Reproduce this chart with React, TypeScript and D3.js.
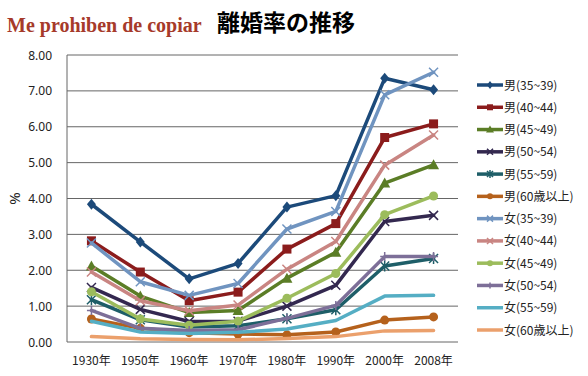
import React from "react";
import * as d3 from "d3";

const years = ["1930年", "1950年", "1960年", "1970年", "1980年", "1990年", "2000年", "2008年"];
const yTicks = [0, 1, 2, 3, 4, 5, 6, 7, 8];

const seriesNames = [
  "男(35~39)", "男(40~44)", "男(45~49)", "男(50~54)", "男(55~59)", "男(60歳以上)",
  "女(35~39)", "女(40~44)", "女(45~49)", "女(50~54)", "女(55~59)", "女(60歳以上)",
];

const m35 = [3.84, 2.79, 1.76, 2.19, 3.76, 4.08, 7.35, 7.03];
const m40 = [2.82, 1.95, 1.15, 1.39, 2.59, 3.3, 5.7, 6.08];
const m45 = [2.12, 1.28, 0.82, 0.88, 1.78, 2.5, 4.43, 4.94];
const m50 = [1.52, 0.91, 0.57, 0.58, 1.0, 1.58, 3.36, 3.53];
const m55 = [1.18, 0.62, 0.42, 0.45, 0.65, 0.9, 2.12, 2.33];
const m60 = [0.64, 0.38, 0.26, 0.22, 0.2, 0.28, 0.61, 0.7];
const f35 = [2.76, 1.68, 1.3, 1.63, 3.15, 3.64, 6.89, 7.52];
const f40 = [1.95, 1.15, 0.87, 1.03, 2.03, 2.8, 4.93, 5.77];
const f45 = [1.4, 0.64, 0.47, 0.58, 1.22, 1.91, 3.55, 4.07];
const f50 = [0.88, 0.38, 0.32, 0.34, 0.66, 1.02, 2.38, 2.38];
const f55 = [0.58, 0.28, 0.24, 0.27, 0.36, 0.6, 1.28, 1.3];
const f60 = [0.15, 0.09, 0.07, 0.06, 0.1, 0.15, 0.31, 0.32];

const seriesValues = [m35, m40, m45, m50, m55, m60, f35, f40, f45, f50, f55, f60];

const colors = [
  "#1c4a7a", "#8b1c1c", "#5b7d26", "#33284f", "#1e5e68", "#b5611c",
  "#7094c0", "#c98582", "#9cbc5c", "#7d6f98", "#55aec4", "#eba06c",
];
const markers = ["diamond", "square", "triangle", "x", "star", "circle", "x", "x", "circle", "plus", "none", "none"];

const W = 588, H = 376;
const plot = { left: 67, right: 458, top: 55, bottom: 342 };

function Marker({ type, x, y, color, s }: { type: string; x: number; y: number; color: string; s: number }) {
  const h = s / 2;
  if (type === "diamond")
    return <path d={`M${x},${y - h - 1}L${x + h},${y}L${x},${y + h + 1}L${x - h},${y}Z`} fill={color} />;
  if (type === "square") return <rect x={x - h} y={y - h} width={s} height={s} fill={color} />;
  if (type === "triangle")
    return <path d={`M${x},${y - h - 1}L${x + h + 1},${y + h}L${x - h - 1},${y + h}Z`} fill={color} />;
  if (type === "circle") return <circle cx={x} cy={y} r={h} fill={color} />;
  if (type === "x")
    return (
      <path d={`M${x - h},${y - h}L${x + h},${y + h}M${x - h},${y + h}L${x + h},${y - h}`} stroke={color} strokeWidth={1.5} />
    );
  if (type === "star")
    return (
      <path
        d={`M${x - h},${y - h}L${x + h},${y + h}M${x - h},${y + h}L${x + h},${y - h}M${x},${y - h - 1}L${x},${y + h + 1}`}
        stroke={color}
        strokeWidth={1.5}
      />
    );
  if (type === "plus")
    return <path d={`M${x - h},${y}L${x + h},${y}M${x},${y - h}L${x},${y + h}`} stroke={color} strokeWidth={1.5} />;
  return null;
}

export default function App() {
  const x = d3.scaleBand<string>().domain(years).range([plot.left, plot.right]);
  const y = d3.scaleLinear().domain([0, 8]).range([plot.bottom, plot.top]);
  const cx = (c: string) => (x(c) as number) + x.bandwidth() / 2;
  const line = d3
    .line<number>()
    .x((_, i) => cx(years[i]))
    .y((v) => y(v));

  const legendY = d3.scalePoint<string>().domain(seriesNames).range([85, 330]);

  return (
    <svg width={W} height={H} style={{ position: "absolute", left: 0, top: 0, background: "#fff" }}>
      <rect x={0} y={0} width={W} height={H} fill="#fff" />
      <text x={7} y={32} fontFamily="'Liberation Serif', serif" fontWeight="bold" fontSize={20} fill="#a63a2a">
        Me prohiben de copiar
      </text>
      <text x={217} y={31} fontFamily="'Noto Sans CJK JP'" fontWeight="bold" fontSize={23} fill="#000">
        離婚率の推移
      </text>

      {yTicks.map((t) => (
        <g key={t}>
          <line x1={plot.left} x2={plot.right} y1={y(t)} y2={y(t)} stroke="#666" strokeWidth={1} />
          <text
            x={52}
            y={y(t) + 4.5}
            textAnchor="end"
            fontFamily="'Noto Sans', sans-serif"
            fontSize={12}
            fill="#222"
          >
            {t.toFixed(2)}
          </text>
        </g>
      ))}
      <line x1={plot.left} x2={plot.left} y1={plot.top} y2={plot.bottom} stroke="#666" strokeWidth={1} />
      <text
        transform={`translate(20,${y(4)}) rotate(-90)`}
        textAnchor="middle"
        fontFamily="'Noto Sans', sans-serif"
        fontSize={15}
        fill="#222"
      >
        %
      </text>

      {years.map((yr) => (
        <text
          key={yr}
          x={cx(yr)}
          y={365}
          textAnchor="middle"
          fontFamily="'Noto Sans CJK JP', sans-serif"
          fontSize={12}
          fill="#222"
        >
          {yr}
        </text>
      ))}

      {seriesValues.map((vals, si) => (
        <g key={si}>
          <path d={line(vals) as string} fill="none" stroke={colors[si]} strokeWidth={3.5} strokeLinejoin="round" strokeLinecap="round" />
          {vals.map((v, i) => (
            <Marker key={i} type={markers[si]} x={cx(years[i])} y={y(v)} color={colors[si]} s={9} />
          ))}
        </g>
      ))}

      {seriesNames.map((n, si) => {
        const ly = legendY(n) as number;
        return (
          <g key={n}>
            <line x1={477} x2={503} y1={ly} y2={ly} stroke={colors[si]} strokeWidth={3.5} />
            <Marker type={markers[si]} x={490} y={ly} color={colors[si]} s={6} />
            <text x={504} y={ly + 4.5} fontFamily="'Noto Sans CJK JP', sans-serif" fontSize={12} fill="#222">
              {n}
            </text>
          </g>
        );
      })}
    </svg>
  );
}
